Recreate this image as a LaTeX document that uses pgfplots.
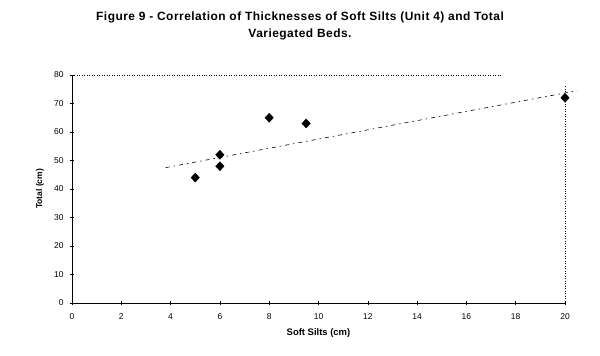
\documentclass[border=0pt]{standalone}
\usepackage{pgfplots}
\pgfplotsset{compat=1.18}
\usepackage{fontspec}
\setmainfont{Liberation Sans}
\newfontfamily\titlefont[LetterSpace=4]{Liberation Sans}
\begin{document}
\begin{tikzpicture}
\begin{axis}[
  scale only axis,
  width=493bp, height=228bp,
  xmin=0, xmax=20, ymin=0, ymax=80,
  xtick={0,2,...,20}, ytick={0,10,...,80},
  axis x line*=bottom, axis y line*=left,
  axis line style={black, line width=0.8pt, -},
  tick align=center, major tick length=4bp,
  tick style={black, line width=0.6pt},
  /pgf/number format/assume math mode=true,
  ticklabel style={font=\fontsize{8.5}{10}\selectfont},
  xticklabel style={yshift=-5bp},
  yticklabel style={xshift=-3bp},
  xlabel={\textbf{Soft Silts (cm)}},
  ylabel={\textbf{Total (cm)}},
  xlabel style={font=\fontsize{9.5}{11}\selectfont, at={(rel axis cs:0.5,0)}, anchor=center, yshift=-30bp},
  ylabel style={font=\fontsize{8.5}{10}\selectfont, at={(rel axis cs:0,0.5)}, anchor=center, yshift=32bp},
  clip=false,
]
\addplot[only marks, mark=diamond*, mark size=4.5bp, mark options={xscale=1.25}, black] coordinates {
 (5,44) (6,52) (6,48) (8,65) (9.5,63) (20,72)
};
\addplot[black, line width=0.6pt, dash pattern=on 4bp off 4bp on 1.5bp off 4bp] coordinates {
 (3.8,47.5) (20.5,74.5)
};
\draw[black, line width=0.5pt, dotted] (rel axis cs:0,1) -- (rel axis cs:0.87,1);
\draw[black, line width=0.5pt, dotted] (rel axis cs:1,0.95) -- (rel axis cs:1,0);
\coordinate (bl) at (rel axis cs:0,0);
\coordinate (tr) at (rel axis cs:1,1);
\end{axis}
\path ([shift={(-72bp,-53bp)}]bl) rectangle ([shift={(35bp,75bp)}]tr);
\node[font=\titlefont\bfseries\fontsize{12}{17}\selectfont, align=center] at ([shift={(228bp,49bp)}]tr -| bl) {Figure 9 - Correlation of Thicknesses of Soft Silts (Unit 4) and Total\\Variegated Beds.};
\end{tikzpicture}
\end{document}
